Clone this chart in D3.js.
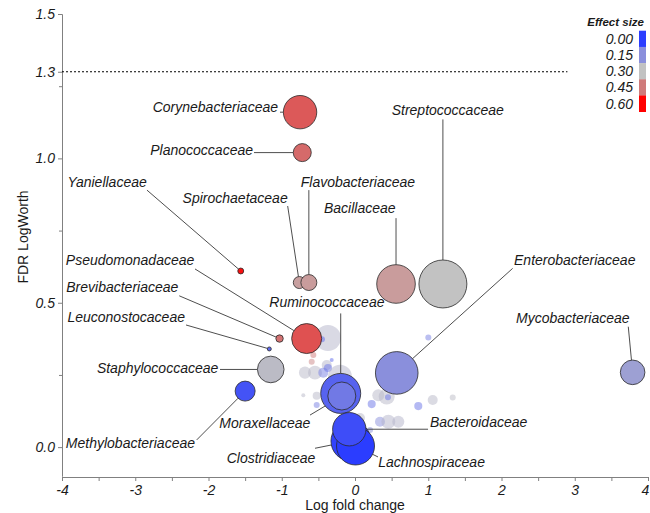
<!DOCTYPE html>
<html>
<head>
<meta charset="utf-8">
<script src="https://cdn.jsdelivr.net/npm/d3@7"></script>
<style>
body { margin: 0; background: #fff; }
svg text { font-family: "Liberation Sans", Arial, sans-serif; }
</style>
</head>
<body>
<div id="chart"></div>
<script>
var width = 650;
var height = 513;

// labelled families, in drawing order
var families = ["Corynebacteriaceae", "Planococcaceae", "Yaniellaceae", "Spirochaetaceae", "Flavobacteriaceae",
    "Bacillaceae", "Streptococcaceae", "Pseudomonadaceae", "Brevibacteriaceae", "Leuconostocaceae",
    "Staphylococcaceae", "Methylobacteriaceae", "Enterobacteriaceae", "Mycobacteriaceae", "Ruminococcaceae",
    "Moraxellaceae", "Clostridiaceae", "Lachnospiraceae", "Bacteroidaceae"];
var logFold = [-0.75, -0.72, -1.56, -0.76, -0.63, 0.56, 1.20, -0.66, -1.03, -1.17,
    -1.15, -1.50, 0.57, 3.79, -0.195, -0.18, -0.055, 0.007, -0.078];
var logWorth = [1.16, 1.02, 0.61, 0.57, 0.57, 0.565, 0.565, 0.376, 0.376, 0.34,
    0.269, 0.194, 0.257, 0.259, 0.186, 0.177, 0.021, 0.004, 0.062];
var abundance = [44.6, 13, 1.4, 5.8, 10.2, 59.6, 92, 36, 2.2, 0.64,
    28.3, 16, 72.6, 24.2, 64, 31.4, 64, 57.8, 44.6];
var effect = [0.49, 0.47, 0.58, 0.37, 0.38, 0.38, 0.30, 0.50, 0.46, 0.08,
    0.28, 0.04, 0.15, 0.20, 0.07, 0.11, 0.01, 0.0, 0.03];

// where each label sits and where its leader starts (data units)
var labelSide = ["end", "end", "end", "end", "start", "start", "start", "end", "end", "end",
    "end", "end", "start", "start", "start", "start", "start", "start", "start"];
var labelLfc = [-1.051, -1.392, -2.843, -0.919, -0.741, -0.423, 0.501, -2.194, -2.412, -2.321,
    -1.866, -2.184, 2.171, 2.198, -1.170, -1.853, -1.752, 0.318, 1.024];
var labelFdr = [1.161, 1.010, 0.902, 0.846, 0.902, 0.810, 1.150, 0.631, 0.538, 0.434,
    0.255, -0.004, 0.631, 0.429, 0.484, 0.067, -0.056, -0.068, 0.069];
var leaderLfc = [-1.024, -1.379, -2.840, -0.919, -0.63, 0.56, 1.20, -2.184, -2.399, -2.307,
    -1.843, -2.161, 2.152, 3.731, -0.195, -0.614, -0.546, 0.314, 0.997];
var leaderFdr = [1.16, 1.02, 0.890, 0.835, 0.890, 0.793, 1.135, 0.617, 0.524, 0.423,
    0.269, 0.025, 0.619, 0.417, 0.463, 0.111, -0.004, -0.034, 0.062];

// unlabelled families (drawn faint)
var otherLfc = [-0.369, -0.451, -0.591, -0.569, -0.386, -0.683, -0.546, -0.433, -0.369, -0.205,
    -0.318, -0.523, -0.523, -0.706, 0.228, 0.318, 0.433, 0.45, 0.864, 1.061,
    1.334, 1.001, 0.341, 0.455, 0.591, 0.205, 0.068];
var otherFdr = [0.378, 0.374, 0.296, 0.319, 0.284, 0.258, 0.258, 0.258, 0.274, 0.244,
    0.302, 0.178, 0.146, 0.18, 0.149, 0.18, 0.175, 0.173, 0.142, 0.163,
    0.172, 0.380, 0.088, 0.088, 0.088, 0.059, 0.101];
var otherAbundance = [27, 1.44, 1.44, 1.44, 4, 5.8, 7.8, 4, 2.6, 23,
    0.64, 2.6, 1.44, 0.64, 2.6, 5.8, 10.2, 1.44, 2.6, 4,
    1.44, 1.44, 4, 7.8, 5.8, 1.44, 4];
var otherEffect = [0.26, 0.08, 0.42, 0.45, 0.26, 0.27, 0.27, 0.12, 0.1, 0.26,
    0.08, 0.27, 0.12, 0.27, 0.1, 0.27, 0.27, 0.1, 0.1, 0.27,
    0.28, 0.12, 0.15, 0.26, 0.26, 0.15, 0.27];

var xTicks = [-4, -3, -2, -1, 0, 1, 2, 3, 4];
var xMinor = [-3.5, -2.5, -1.5, -0.5, 0.5, 1.5, 2.5, 3.5];
var yTicks = [0, 0.5, 1.0, 1.3, 1.5];
var yMinor = [0.25, 0.75, 1.25];
var threshold = 1.3;
var legendStops = [0, 0.15, 0.30, 0.45, 0.60];
var legendColors = ["#2b3dff", "#8a8fdc", "#c2c2c2", "#cf7a7a", "#ff0000"];

var svg = d3.select("#chart").append("svg")
    .attr("width", width)
    .attr("height", height);

var x = d3.scaleLinear().domain([-4, 4]).range([62, 648]);
var y = d3.scaleLinear().domain([-0.1, 1.5]).range([476, 14]);
var r = d3.scaleSqrt().domain([0, 100]).range([0, 25]);
var color = d3.scaleLinear().domain(legendStops).range(legendColors);

// axes
var axisColor = "#808080";
function styleAxis(g) {
    g.select(".domain").attr("stroke", axisColor);
    g.selectAll(".tick line").attr("stroke", axisColor);
    g.selectAll(".tick text")
        .attr("fill", "#1a1a1a")
        .style("font-size", "14px")
        .style("font-style", "italic");
}

svg.append("g")
    .attr("transform", "translate(0," + 477 + ")")
    .call(d3.axisBottom(x).tickValues(xMinor).tickSize(4).tickSizeOuter(0).tickFormat(""))
    .call(styleAxis);
var xAxisGroup = svg.append("g")
    .attr("transform", "translate(0," + 477 + ")")
    .call(d3.axisBottom(x).tickValues(xTicks).tickSize(4).tickPadding(4).tickSizeOuter(0)
        .tickFormat(function (d) { return String(d); }))
    .call(styleAxis);
// last label sits on the right edge; pull it in a little
xAxisGroup.selectAll(".tick text")
    .filter(function (d) { return d === 4; })
    .attr("dx", "-3");

svg.append("g")
    .attr("transform", "translate(" + 62 + ",0)")
    .call(d3.axisLeft(y).tickValues(yMinor).tickSize(3).tickSizeOuter(0).tickFormat(""))
    .call(styleAxis);
svg.append("g")
    .attr("transform", "translate(" + 62 + ",0)")
    .call(d3.axisLeft(y).tickValues(yTicks).tickSize(4).tickPadding(3).tickSizeOuter(0)
        .tickFormat(d3.format(".1f")))
    .call(styleAxis);

// axis titles
svg.append("text")
    .attr("x", 355).attr("y", 510)
    .attr("text-anchor", "middle")
    .style("font-size", "14px")
    .attr("fill", "#1a1a1a")
    .text("Log fold change");
svg.append("text")
    .attr("transform", "translate(28,237) rotate(-90)")
    .attr("text-anchor", "middle")
    .style("font-size", "14px")
    .attr("fill", "#1a1a1a")
    .text("FDR LogWorth");

// significance threshold
svg.append("line")
    .attr("x1", x(-4)).attr("x2", x(2.9))
    .attr("y1", y(threshold)).attr("y2", y(threshold))
    .attr("stroke", "#000")
    .attr("stroke-width", 1)
    .attr("stroke-dasharray", "2,2");

// faint unlabelled bubbles
var others = otherLfc.map(function (d, i) {
    return { lfc: d, fdr: otherFdr[i], ab: otherAbundance[i], eff: otherEffect[i] };
});
svg.append("g").selectAll("circle")
    .data(others)
    .enter().append("circle")
    .attr("cx", function (d) { return x(d.lfc); })
    .attr("cy", function (d) { return y(d.fdr); })
    .attr("r", function (d) { return r(d.ab); })
    .attr("fill", function (d) { return color(d.eff); })
    .attr("fill-opacity", 0.5);

// labelled bubbles
var prepared = families.map(function (name, i) {
    return {
        name: name, lfc: logFold[i], fdr: logWorth[i], ab: abundance[i], eff: effect[i],
        side: labelSide[i], lx: labelLfc[i], ly: labelFdr[i], sx: leaderLfc[i], sy: leaderFdr[i]
    };
});

// leader lines
svg.append("g").selectAll("line")
    .data(prepared)
    .enter().append("line")
    .each(function (d) {
        var sx = x(d.sx), sy = y(d.sy);
        var cx = x(d.lfc), cy = y(d.fdr), rad = r(d.ab);
        var dx = cx - sx, dy = cy - sy;
        var dist = Math.sqrt(dx * dx + dy * dy) || 1;
        d3.select(this)
            .attr("x1", sx).attr("y1", sy)
            .attr("x2", cx - dx / dist * rad)
            .attr("y2", cy - dy / dist * rad);
    })
    .attr("stroke", "#3a3a3a")
    .attr("stroke-width", 0.9);

svg.append("g").selectAll("circle")
    .data(prepared)
    .enter().append("circle")
    .attr("cx", function (d) { return x(d.lfc); })
    .attr("cy", function (d) { return y(d.fdr); })
    .attr("r", function (d) { return r(d.ab); })
    .attr("fill", function (d) { return color(d.eff); })
    .attr("stroke", "#2a2a2a")
    .attr("stroke-width", 0.8);

svg.append("g").selectAll("text")
    .data(prepared)
    .enter().append("text")
    .attr("x", function (d) { return x(d.lx); })
    .attr("y", function (d) { return y(d.ly); })
    .attr("text-anchor", function (d) { return d.side; })
    .style("font-size", "14px")
    .style("font-style", "italic")
    .attr("fill", "#1a1a1a")
    .text(function (d) { return d.name; });

// legend
var legend = svg.append("g");
legend.append("text")
    .attr("x", 644).attr("y", 26)
    .attr("text-anchor", "end")
    .style("font-size", "11.5px")
    .style("font-weight", "bold")
    .style("font-style", "italic")
    .attr("fill", "#1a1a1a")
    .text("Effect size");
var segH = 16.2;
legend.selectAll("rect")
    .data(legendStops)
    .enter().append("rect")
    .attr("x", 639).attr("width", 7)
    .attr("y", function (d, i) { return 30.7 + i * segH; })
    .attr("height", segH + 0.3)
    .attr("fill", function (d) { return color(d); });
legend.selectAll("text.lab")
    .data(legendStops)
    .enter().append("text")
    .attr("class", "lab")
    .attr("x", 633)
    .attr("y", function (d, i) { return 30.7 + i * segH + segH / 2 + 5; })
    .attr("text-anchor", "end")
    .style("font-size", "14px")
    .style("font-style", "italic")
    .attr("fill", "#1a1a1a")
    .text(function (d) { return d3.format(".2f")(d); });
</script>
</body>
</html>
